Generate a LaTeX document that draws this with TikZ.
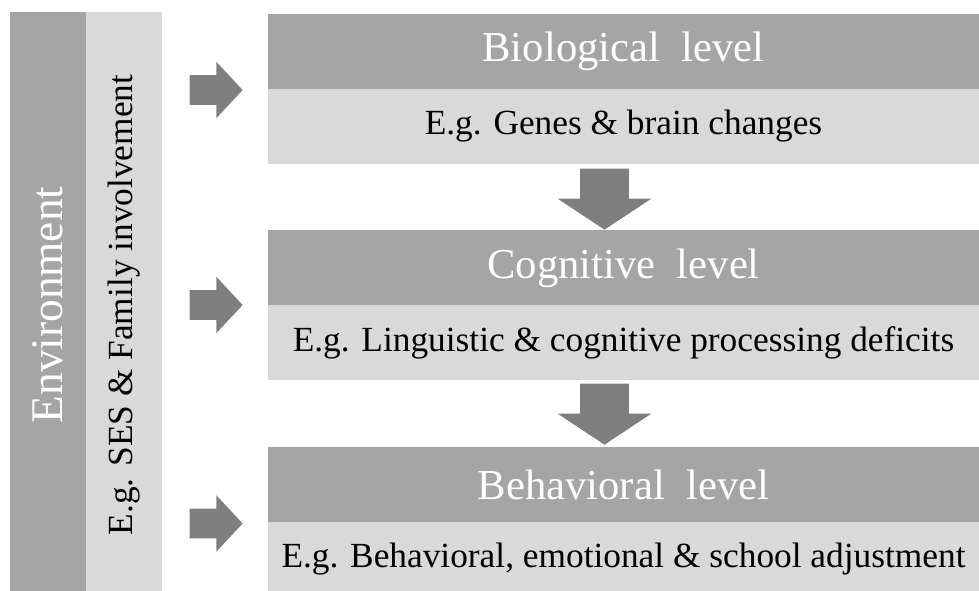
\documentclass[tikz,border=0pt]{standalone}
\usepackage{fontspec}
\setmainfont{Liberation Serif}
\usetikzlibrary{shapes.arrows}

\definecolor{darkbar}{HTML}{A5A5A5}
\definecolor{lightbar}{HTML}{D9D9D9}
\definecolor{arrowgray}{HTML}{7F7F7F}
\newcommand{\titlesize}{\fontsize{32}{38}\selectfont}
\newcommand{\envsize}{\fontsize{34}{40}\selectfont}
\newcommand{\notesize}{\fontsize{26.5}{32}\selectfont}

\begin{document}
\begin{tikzpicture}[x=0.75pt, y=-0.75pt,
		head/.style={fill=darkbar, text=white, font=\titlesize, inner sep=0pt,
					 minimum width=533.25pt, minimum height=56.25pt},
		body/.style={fill=lightbar, text=black, font=\notesize, inner sep=0pt,
					 minimum width=533.25pt, minimum height=56.25pt},
		envbar/.style={rotate=90, inner sep=0pt,
					   minimum width=439.5pt, minimum height=57pt},
		rarrow/.style={single arrow, fill=arrowgray, inner sep=10.875pt, anchor=tip,
					   minimum height=39.75pt,
					   single arrow head extend=10.125pt, single arrow tip angle=94},
		darrow/.style={single arrow, shape border rotate=270, fill=arrowgray, anchor=tip,
					   inner xsep=18pt, inner ysep=2pt, minimum height=45.75pt,
					   single arrow head extend=16.875pt, single arrow tip angle=113}]
	\clip (0,0) rectangle (979,591);

	\node[envbar, fill=darkbar, text=white, font=\envsize] (env) at (48,305) {Environment};
	\node[envbar, fill=lightbar, font=\notesize] (ses) at (124,305) {E.g. SES \& Family involvement};

	\node[head] (bio)   at (623.5,51.5)  {Biological\ \ level};
	\node[body] (bioeg) at (623.5,126.5) {E.g. Genes \& brain changes};
	\node[head] (cog)   at (623.5,268)   {Cognitive\ \ level};
	\node[body] (cogeg) at (623.5,343)   {E.g. Linguistic \& cognitive processing deficits};
	\node[head] (beh)   at (623.5,484.5) {Behavioral\ \ level};
	\node[body] (beheg) at (623.5,559.5) {E.g. Behavioral, emotional \& school adjustment};

	% block arrows, placed by their tips
	\node[rarrow] (r1) at (243,90)    {};
	\node[rarrow] (r2) at (243,305)   {};
	\node[rarrow] (r3) at (243,523.5) {};
	\node[darrow] (d1) at (604.5,230) {};
	\node[darrow] (d2) at (604.5,445) {};

\end{tikzpicture}
\end{document}
